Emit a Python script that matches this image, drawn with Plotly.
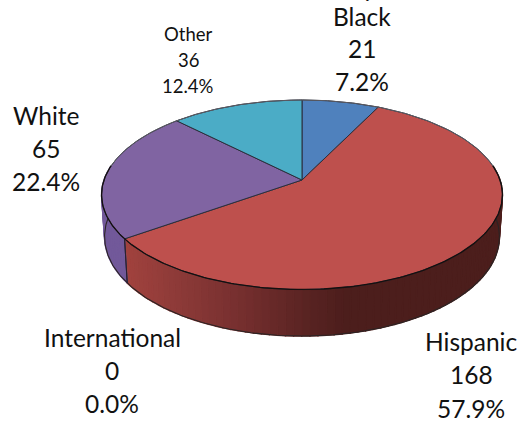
import numpy as np
import plotly.graph_objects as go

# ---- data ----
categories = ["Black", "Hispanic", "International", "White", "Other"]
values = [21, 168, 0, 65, 36]

# ---- styles / layout constants ----
top_colors = ["#4F81BD", "#BE504D", "#9BBB59", "#8064A2", "#4BACC6"]
label_centers = [(362, (16, 48.5, 81), 24.5), (471, (341.5, 374.5, 408), 24.5),
                 (112, (337, 370, 403.5), 24.5), (46, (115.5, 148.5, 181.5), 24.5),
                 (188, (34, 60, 86), 18.5)]
FONT = "Lato, Carlito, 'Open Sans', sans-serif"

# projection of the pie disc (perspective) to page pixels
CX, CY, A, B, K = 302.0, 180.0, 198.0, 92.5, 0.1557
LOW_SCALE, DEPTH0, DEPTH_SLOPE = 0.985, 41.0, 5.5


def top(theta):
    u, v = np.sin(theta), np.cos(theta)
    w = 1 + K * v
    return CX + A * u / w, CY - B * v / w


def low(theta):
    x, y = top(theta)
    return CX + LOW_SCALE * (x - CX), y + DEPTH0 - DEPTH_SLOPE * np.cos(theta)


total = sum(values)
fracs = np.array(values) / total
edges = 2 * np.pi * np.concatenate([[0], np.cumsum(fracs)])

fig = go.Figure()


def poly(xs, ys, fill, line_color=None, width=1.4):
    fig.add_trace(go.Scatter(x=xs, y=ys, mode="lines", fill="toself", fillcolor=fill,
                             line=dict(color=line_color or fill, width=width),
                             hoverinfo="skip", showlegend=False))


def line(xs, ys, color, width):
    fig.add_trace(go.Scatter(x=xs, y=ys, mode="lines", line=dict(color=color, width=width),
                             hoverinfo="skip", showlegend=False))


# side wall: colour follows horizontal position like a linear gradient
grad_x = [128, 180, 235, 300, 345, 520]
grad_r = [160, 140, 120, 92, 76, 76]
grad_g = [66, 58, 48, 37, 30, 30]
grad_b = [62, 56, 48, 36, 28, 28]


def side_color(i, x):
    if categories[i] == "Hispanic":
        return "rgb(%d,%d,%d)" % (np.interp(x, grad_x, grad_r), np.interp(x, grad_x, grad_g),
                                  np.interp(x, grad_x, grad_b))
    return "#72599A"


T_RIGHT = np.pi / 2 - np.arcsin(K)
T_LEFT = 2 * np.pi - T_RIGHT
for i in range(len(values)):
    a0, a1 = max(edges[i], T_RIGHT), min(edges[i + 1], T_LEFT)
    if a1 <= a0:
        continue
    n = max(2, int((a1 - a0) / np.radians(2)))
    ts = np.linspace(a0, a1, n + 1)
    for t0, t1 in zip(ts[:-1], ts[1:]):
        seg = np.array([t0, t1])
        xt, yt = top(seg)
        xl, yl = low(seg[::-1])
        poly(np.r_[xt, xl, xt[0]], np.r_[yt, yl, yt[0]], side_color(i, xt.mean()))

# outline of the wall
ts = np.linspace(T_RIGHT, T_LEFT, 240)
xl, yl = low(ts)
line(xl, yl, "#2b2424", 1.1)
for t in edges[1:]:
    if T_RIGHT < t < T_LEFT and np.isclose(t, edges[2]):
        xs = [top(t)[0], low(t)[0]]
        ys = [top(t)[1], low(t)[1]]
        line(xs, ys, "#2a2230", 1)
for t in (T_RIGHT, T_LEFT):
    line([top(t)[0], low(t)[0]], [top(t)[1], low(t)[1]], "#2b2424", 1)

# top face
for i in range(len(values)):
    if values[i] == 0:
        continue
    ts = np.linspace(edges[i], edges[i + 1], 160)
    xs, ys = top(ts)
    poly(np.r_[CX, xs, CX], np.r_[CY, ys, CY], top_colors[i], "#2b2f3c", 1)

# far rim is lighter, near rim darker
ts = np.linspace(T_LEFT, T_RIGHT + 2 * np.pi, 200)
xr, yr = top(ts)
line(xr, yr, "#5a5a62", 1)
ts = np.linspace(T_RIGHT, T_LEFT, 240)
xr, yr = top(ts)
line(xr, yr, "#141010", 1.3)

# labels, one annotation per line so that spacing follows the reference
for name, val, frac, (lx, ly, size) in zip(categories, values, fracs, label_centers):
    for txt, y in zip([name, str(val), f"{frac * 100:.1f}%"], ly):
        fig.add_annotation(x=lx, y=y, text=txt, showarrow=False, xanchor="center", yanchor="middle",
                           font=dict(family=FONT, size=size, color="#111111"))

# clipped chart title: only a descender reaches the top edge of the picture
fig.add_annotation(x=369, y=0, yshift=13, text="y", showarrow=False, xanchor="center", yanchor="middle",
                   font=dict(family=FONT, size=24.5, color="#111111"))

fig.update_layout(
    width=523, height=423, margin=dict(l=0, r=0, t=0, b=0),
    paper_bgcolor="white", plot_bgcolor="white", showlegend=False,
    xaxis=dict(range=[0, 523], visible=False, fixedrange=True),
    yaxis=dict(range=[423, 0], visible=False, fixedrange=True),
)
fig.write_html("out.html", config={"displayModeBar": False},
               post_script="document.body.style.margin='0';document.documentElement.style.overflow='hidden';")
